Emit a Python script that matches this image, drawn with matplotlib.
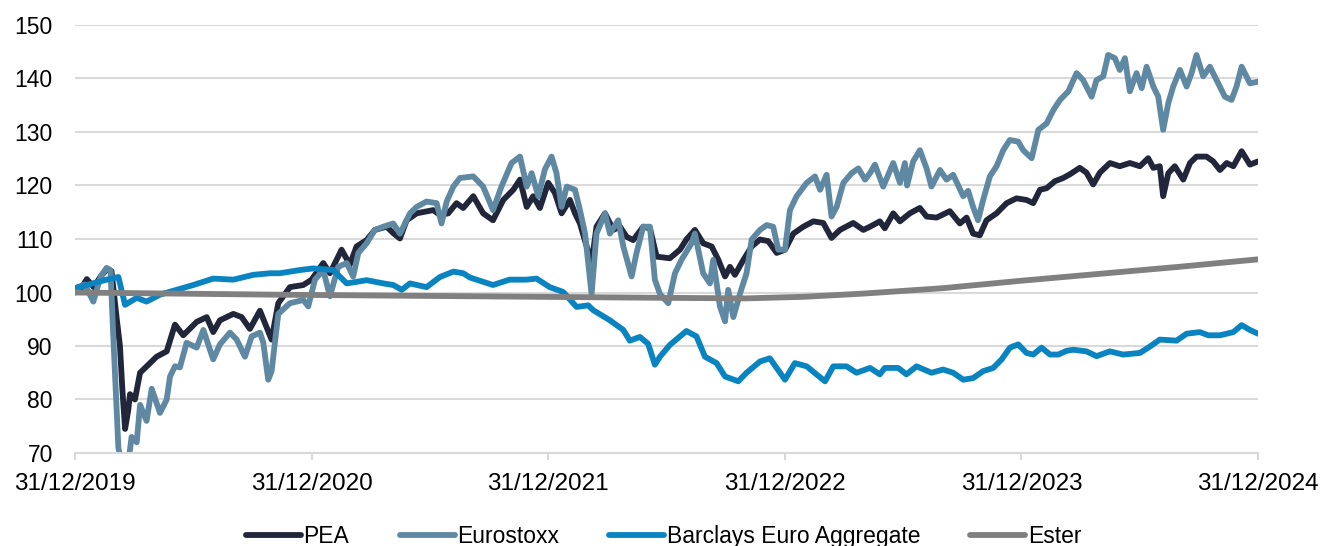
import matplotlib
matplotlib.use("Agg")
import matplotlib.pyplot as plt

plt.rcParams['font.family'] = ['Liberation Sans', 'DejaVu Sans']

# x = months elapsed since 31/12/2019
tick_months = [0, 12, 24, 36, 48, 60]
tick_labels = ["31/12/2019", "31/12/2020", "31/12/2021", "31/12/2022", "31/12/2023", "31/12/2024"]
y_ticks = [70, 80, 90, 100, 110, 120, 130, 140, 150]

pea_m = [0, 0.35, 0.6, 0.95, 1.3, 1.6, 1.85, 2.11, 2.28, 2.4, 2.54, 2.7, 2.79, 3.04, 3.3, 3.8, 4.14, 4.65,
         5.07, 5.49, 6.17, 6.68, 7.01, 7.35, 8.03, 8.45, 8.87, 9.38, 9.97, 10.31, 10.9, 11.58, 12.0, 12.59,
         12.93, 13.52, 13.94, 14.28, 14.79, 15.21, 15.81, 16.14, 16.48, 16.82, 17.33, 18.17, 18.51, 18.93,
         19.35, 19.69, 20.2, 20.7, 21.2, 21.72, 22.23, 22.57, 22.91, 23.24, 23.58, 24.0, 24.34, 24.68, 25.1,
         25.36, 25.61, 25.95, 26.2, 26.45, 26.88, 27.3, 27.64, 27.98, 28.31, 28.82, 29.16, 29.5, 30.17, 30.68,
         31.01, 31.44, 31.86, 32.29, 32.63, 32.97, 33.22, 33.47, 33.9, 34.32, 34.74, 35.16, 35.59, 36.01,
         36.43, 36.94, 37.45, 37.95, 38.37, 38.8, 39.47, 39.98, 40.32, 40.82, 41.07, 41.5, 41.84, 42.34,
         42.85, 43.19, 43.7, 44.37, 44.88, 45.22, 45.55, 45.89, 46.23, 46.74, 47.25, 47.75, 48.26, 48.6,
         48.94, 49.28, 49.7, 50.12, 50.46, 50.96, 51.3, 51.64, 51.98, 52.49, 52.99, 53.5, 54.01, 54.43,
         54.69, 55.02, 55.19, 55.45, 55.78, 56.21, 56.55, 56.88, 57.39, 57.73, 58.07, 58.41, 58.75, 59.17,
         59.59, 60.0]
pea_v = [100, 101, 102.5, 101.0, 103, 104.3, 104, 95.3, 90, 82, 74.5, 78, 81, 80, 85, 86.8, 88, 89,
         94, 92, 94.5, 95.4, 92.6, 94.8, 96, 95.4, 93.2, 96.6, 91.2, 98, 101, 101.4, 102.4, 105.5,
         103.6, 108, 105.2, 108.6, 109.8, 111.7, 112.3, 111.1, 110.1, 113.5, 114.8, 115.4, 114.5, 114.8,
         116.7, 115.8, 118, 114.8, 113.5, 117.3, 119.2, 121.1, 116, 118, 115.8, 120.5, 118.6, 114.8, 117.3,
         114.8, 112.9, 108.6, 105.5, 112.3, 114.8, 111.7, 112.3, 110.4, 109.8, 112.3, 112, 106.7, 106.4, 108,
         109.9, 111.7, 109.2, 108.6, 106.1, 103, 104.8, 103.3, 106.1, 108.6, 109.9, 109.6, 107.4, 108,
         111, 112.3, 113.3, 113, 110.2, 111.7, 113, 111.7, 112.3, 113.3, 112, 114.8, 113.3, 114.8,
         115.8, 114.2, 114, 115.2, 112.9, 114, 111, 110.7, 113.5, 114.8, 116.7, 117.6, 117.3, 116.7,
         119.2, 119.5, 120.8, 121.4, 122.1, 123.3, 122.4, 120.2, 122.4, 124.2, 123.6, 124.2, 123.6, 125.1,
         123.3, 123.6, 118, 122.3, 123.6, 121.1, 124.2, 125.4, 125.4, 124.5, 122.9, 124.2, 123.6, 126.4,
         123.9, 124.5]

stoxx_m = [0, 0.5, 0.93, 1.3, 1.6, 1.8, 1.94, 2.2, 2.45, 2.7, 2.87, 3.13, 3.3, 3.63, 3.89, 4.31, 4.65,
           4.82, 5.07, 5.32, 5.66, 6.17, 6.51, 7.01, 7.35, 7.86, 8.2, 8.62, 8.96, 9.38, 9.55, 9.8, 9.97,
           10.31, 10.9, 11.58, 11.83, 12.17, 12.59, 12.93, 13.35, 13.78, 14.11, 14.37, 14.79, 15.21, 15.64,
           16.14, 16.48, 16.99, 17.33, 17.83, 18.34, 18.59, 18.85, 19.19, 19.52, 20.2, 20.7, 21.2, 21.63,
           22.14, 22.57, 22.91, 23.16, 23.5, 23.83, 24.17, 24.42, 24.68, 24.94, 25.36, 25.61, 25.87, 26.2,
           26.45, 26.88, 27.13, 27.55, 27.81, 28.23, 28.48, 28.82, 29.16, 29.41, 29.67, 30.09, 30.43, 30.76,
           31.27, 31.44, 31.86, 32.2, 32.37, 32.71, 32.97, 33.13, 33.39, 33.72, 34.06, 34.32, 34.74, 35.08,
           35.41, 35.67, 36.01, 36.26, 36.6, 37.11, 37.53, 37.79, 38.12, 38.37, 38.63, 38.97, 39.39, 39.73,
           40.07, 40.32, 40.57, 40.99, 41.5, 41.84, 42.09, 42.2, 42.51, 42.85, 43.19, 43.44, 43.87, 44.2,
           44.54, 45.05, 45.3, 45.55, 45.8, 46.06, 46.4, 46.74, 47.08, 47.41, 47.84, 48.09, 48.52, 48.86,
           49.28, 49.62, 49.96, 50.38, 50.8, 51.13, 51.56, 51.81, 52.15, 52.4, 52.74, 52.99, 53.25, 53.5,
           53.84, 54.1, 54.35, 54.69, 54.94, 55.19, 55.45, 55.7, 56.04, 56.38, 56.63, 56.88, 57.22, 57.56,
           57.9, 58.32, 58.66, 58.91, 59.17, 59.59, 60.0]
stoxx_v = [100.8, 101.5, 98.3, 103, 104.6, 104.2, 92, 71, 66.5, 68, 73, 72, 79, 76, 82, 77.5, 80,
           84.3, 86.2, 86, 90.6, 89.7, 93, 87.5, 90.3, 92.5, 91.2, 88, 91.8, 92.5, 90.6, 83.7, 85.3,
           96, 98, 98.6, 97.4, 102.4, 104.2, 99.3, 104.8, 105.5, 103, 107.4, 109.2, 111.7, 112.3,
           112.9, 111, 114.8, 116, 117, 116.7, 112.9, 117, 119.8, 121.4, 121.7, 119.8, 115.4, 119.8,
           124.2, 125.4, 119.8, 122.3, 118, 123, 125.4, 122.3, 116, 119.8, 119.2, 115.4, 111, 99.7,
           111, 114.8, 111, 113.5, 108.6, 103, 107.4, 112.3, 112.3, 102.4, 99.7, 98, 103.6, 106.1,
           109.2, 111, 103.6, 101.7, 106.1, 97.4, 94.6, 100.5, 95.4, 99.7, 103.6, 109.9, 111.7, 112.6,
           112.3, 108, 108, 115.4, 118, 120.5, 121.7, 119.2, 122, 114.2, 116, 120.5, 122.3, 123.2,
           121.1, 122.3, 123.9, 119.8, 124.2, 120.5, 124.2, 120, 124.5, 126.6, 123.2, 119.8, 122.9, 121.1,
           122, 118, 119, 116, 113.5, 117.3, 121.7, 123.6, 126.6, 128.5, 128.2, 126.6, 125.1, 130.4,
           131.6, 134.1, 136, 137.6, 141, 139.7, 136.6, 139.7, 140.4, 144.4, 143.8, 141.6, 143.8, 137.6,
           141, 138.2, 142.2, 138.5, 136.6, 130.4, 135.4, 138.5, 141.6, 138.5, 141, 144.4, 140.4, 142.2,
           139.7, 136.6, 136, 138.5, 142.2, 139.1, 139.4]

barc_m = [0, 0.59, 1.61, 2.2, 2.54, 3.13, 3.63, 4.31, 5.15, 6.0, 7.01, 8.03, 9.04, 9.89, 10.4, 11.41,
          12.08, 13.1, 13.78, 14.79, 15.64, 16.14, 16.57, 16.99, 17.83, 18.51, 19.19, 19.69, 20.03, 20.2,
          21.2, 22.04, 22.89, 23.41, 24.08, 24.76, 25.44, 26.03, 26.28, 27.13, 27.81, 28.14, 28.65, 29.07,
          29.41, 29.67, 30.17, 31.01, 31.52, 31.95, 32.54, 32.97, 33.64, 34.06, 34.74, 35.24, 36.01, 36.51,
          37.11, 38.04, 38.46, 39.13, 39.64, 40.32, 40.82, 41.07, 41.75, 42.17, 42.68, 43.44, 44.03, 44.54,
          45.05, 45.55, 46.06, 46.57, 47.0, 47.42, 47.84, 48.26, 48.6, 49.02, 49.45, 49.87, 50.29, 50.63,
          51.3, 51.81, 52.49, 53.16, 54.01, 54.52, 55.02, 55.87, 56.38, 57.05, 57.48, 58.07, 58.41, 58.75,
          59.17, 59.59, 60.0]
barc_v = [100.8, 101.4, 102.4, 102.9, 97.7, 99, 98.3, 99.6, 100.5, 101.4, 102.6, 102.4, 103.3, 103.6, 103.6, 104.2,
          104.5, 104.2, 101.7, 102.3, 101.7, 101.4, 100.5, 101.7, 101, 102.9, 103.9, 103.6, 102.8, 102.6,
          101.4, 102.4, 102.4, 102.6, 101, 100.1, 97.3, 97.6, 96.7, 94.8, 93, 91, 91.7, 90.4,
          86.5, 88, 90.2, 92.8, 91.8, 88, 86.8, 84.3, 83.4, 85, 87.1, 87.7, 83.7, 86.8,
          86.2, 83.4, 86.2, 86.2, 85, 85.9, 84.7, 85.9, 85.9, 84.7, 86.2, 85, 85.6, 85,
          83.7, 84, 85.3, 85.9, 87.5, 89.7, 90.3, 88.7, 88.4, 89.7, 88.4, 88.4, 89.1, 89.3,
          89, 88.1, 89, 88.4, 88.7, 89.9, 91.2, 91, 92.3, 92.6, 92, 92, 92.3, 92.6,
          93.9, 93, 92.3]

ester_m = [0, 10, 20, 30, 34, 37, 40, 44, 48, 52, 56, 60]
ester_v = [100, 99.6, 99.3, 99.0, 98.9, 99.2, 99.8, 100.8, 102.2, 103.5, 104.8, 106.2]

series = [("PEA", pea_m, pea_v, "#22263b"),
          ("Eurostoxx", stoxx_m, stoxx_v, "#5f88a3"),
          ("Barclays Euro Aggregate", barc_m, barc_v, "#0a84c1"),
          ("Ester", ester_m, ester_v, "#808080")]

fig = plt.figure(figsize=(13.22, 5.46), dpi=100)
ax = fig.add_axes([75 / 1322, 1 - 453 / 546, (1258 - 75) / 1322, (453 - 25) / 546])

for name, m, v, c in series:
    ax.plot(m, v, color=c, lw=4.2, label=name, solid_joinstyle='round', solid_capstyle='round')

ax.set_xlim(0, 60)
ax.set_ylim(70, 150)
ax.set_yticks(y_ticks)
ax.set_xticks(tick_months)
ax.set_xticklabels(tick_labels)
ax.grid(axis='y', color='#d9d9d9', lw=1.5)
ax.set_axisbelow(True)
for s in ['top', 'right', 'left']:
    ax.spines[s].set_visible(False)
ax.spines['bottom'].set_color('#d9d9d9')
ax.spines['bottom'].set_linewidth(1.5)
ax.tick_params(axis='y', length=0, pad=16, labelsize=16.5, colors='#000000')
ax.tick_params(axis='x', length=5, width=1.5, color='#d9d9d9', pad=9.5, labelsize=17.5)

leg = fig.legend(loc='center', bbox_to_anchor=(0.502, 0.018), ncol=4, frameon=False, fontsize=16.5,
                 handlelength=2.4, columnspacing=2.2, handletextpad=0.1)
for h in leg.get_lines():
    h.set_linewidth(4.2)

fig.savefig("out.png", dpi=100)
